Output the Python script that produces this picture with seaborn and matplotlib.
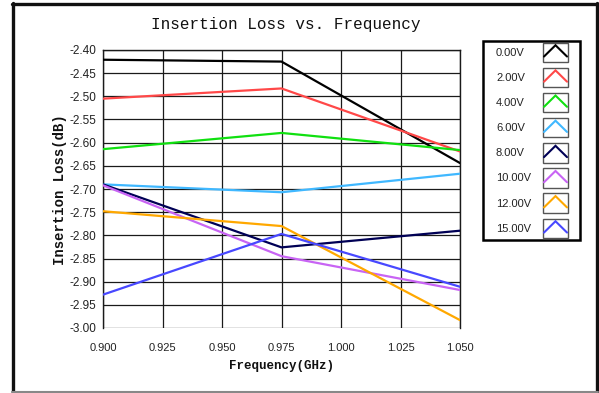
import numpy as np
import pandas as pd
import matplotlib
matplotlib.use("Agg")
import matplotlib.pyplot as plt
import seaborn as sns
from matplotlib.legend_handler import HandlerBase
from matplotlib.patches import Rectangle
from matplotlib.lines import Line2D
from matplotlib.ticker import MultipleLocator, FuncFormatter, FixedLocator

# ---------------- data ----------------
freq = [0.900, 0.975, 1.050]
series_labels = ["0.00V", "2.00V", "4.00V", "6.00V", "8.00V", "10.00V", "12.00V", "15.00V"]
loss_0v = [-2.421, -2.425, -2.644]
loss_2v = [-2.505, -2.483, -2.619]
loss_4v = [-2.614, -2.579, -2.616]
loss_6v = [-2.690, -2.707, -2.667]
loss_8v = [-2.690, -2.826, -2.790]
loss_10v = [-2.692, -2.845, -2.918]
loss_12v = [-2.748, -2.780, -2.983]
loss_15v = [-2.928, -2.797, -2.911]
series_colors = ["#000000", "#ff4848", "#10e010", "#40b8ff",
                 "#000055", "#c864f4", "#ffa800", "#4848ff"]
x_ticks = [0.900, 0.925, 0.950, 0.975, 1.000, 1.025, 1.050]
y_ticks = [-2.40, -2.45, -2.50, -2.55, -2.60, -2.65, -2.70, -2.75,
           -2.80, -2.85, -2.90, -2.95, -3.00]

all_series = [loss_0v, loss_2v, loss_4v, loss_6v, loss_8v, loss_10v, loss_12v, loss_15v]
rows = []
for lab, vals in zip(series_labels, all_series):
    for f, v in zip(freq, vals):
        rows.append({"Frequency": f, "Loss": v, "Bias": lab})
df = pd.DataFrame(rows)

# ---------------- style ----------------
sns.set_style("white")
plt.rcParams["font.family"] = ["Liberation Sans", "DejaVu Sans"]
NARROW = ["Liberation Sans", "DejaVu Sans"]
MONO = ["Liberation Mono", "DejaVu Sans Mono"]

W, H = 599, 393
fig = plt.figure(figsize=(W / 100, H / 100), dpi=100)
fig.patch.set_facecolor("white")

left, right, top, bottom = 103, 460, 50, 328
ax = fig.add_axes([left / W, 1 - bottom / H, (right - left) / W, (bottom - top) / H])

sns.lineplot(data=df, x="Frequency", y="Loss", hue="Bias", hue_order=series_labels,
             palette=dict(zip(series_labels, series_colors)), linewidth=1.6,
             legend=False, ax=ax, zorder=3)

ax.set_xlim(x_ticks[0], x_ticks[-1])
ax.set_ylim(y_ticks[-1], y_ticks[0])
ax.xaxis.set_major_locator(FixedLocator(x_ticks))
ax.yaxis.set_major_locator(FixedLocator(y_ticks))
ax.xaxis.set_minor_locator(MultipleLocator(0.0025))
ax.yaxis.set_minor_locator(MultipleLocator(0.025))
ax.xaxis.set_major_formatter(FuncFormatter(lambda v, p: "%.3f" % v))
ax.yaxis.set_major_formatter(FuncFormatter(lambda v, p: ("%.2f" % v).replace("\u2212", "-")))

ax.grid(True, which="major", color="#1a1a1a", linewidth=0.9)
ax.set_axisbelow(True)

for s in ["top", "right", "left"]:
    ax.spines[s].set_color("#1a1a1a")
    ax.spines[s].set_linewidth(1.0)
ax.spines["bottom"].set_position(("outward", 3))
ax.spines["bottom"].set_visible(False)

ax.tick_params(axis="x", which="major", direction="out", length=4.5, width=0.9,
               color="#222222", pad=3, labelsize=8, labelcolor="#222222")
ax.tick_params(axis="x", which="minor", direction="out", length=2.6, width=0.8,
               color="#222222")
ax.tick_params(axis="y", which="major", direction="out", length=3, width=0.9,
               color="#222222", pad=2, labelsize=8.5, labelcolor="#222222")
ax.tick_params(axis="y", which="minor", direction="out", length=1.6, width=0.8,
               color="#222222")
for lab in ax.get_xticklabels() + ax.get_yticklabels():
    lab.set_family(NARROW)

ax.set_xlabel("")
ax.set_ylabel("")

# titles / labels
fig.text(286 / W, 1 - 25 / H, "Insertion Loss vs. Frequency", family=MONO,
         fontsize=11.5, ha="center", va="center", color="#111111")
fig.text(281 / W, 1 - 366 / H, "Frequency(GHz)", family=MONO, fontweight="bold",
         fontsize=9, ha="center", va="center", color="#111111")
fig.text(60 / W, 1 - 190 / H, "Insertion Loss(dB)", family=MONO, fontweight="bold",
         fontsize=10, ha="center", va="center", rotation=90, color="#111111")


# ---------------- legend ----------------
# icon box sits to the right of the (left-aligned) label text
ICON_OFFSET_PT = 47 * 0.72   # distance from text start to icon box
ICON_W_PT = 25 * 0.72


class CaretHandler(HandlerBase):
    def create_artists(self, legend, orig_handle, xdescent, ydescent, width, height,
                       fontsize, trans):
        x0, y0 = -xdescent + ICON_OFFSET_PT, -ydescent
        w = ICON_W_PT
        rect = Rectangle((x0, y0), w, height, fill=False, edgecolor="#555555",
                         linewidth=1.0, transform=trans)
        line = Line2D([x0 + 0.04 * w, x0 + 0.5 * w, x0 + 0.96 * w],
                      [y0 + 0.28 * height, y0 + 0.86 * height, y0 + 0.28 * height],
                      color=orig_handle.get_color(), linewidth=1.5,
                      solid_joinstyle="miter", transform=trans)
        return [rect, line]


handles = ax.get_lines()[:len(series_labels)]
leg = fig.legend(handles, series_labels, loc="upper left",
                 bbox_to_anchor=(496 / W, 1 - 42.5 / H), bbox_transform=fig.transFigure,
                 frameon=False, markerfirst=True, borderpad=0, borderaxespad=0,
                 handlelength=0.0, handleheight=2.32, labelspacing=0.51,
                 handletextpad=0.0,
                 prop={"family": NARROW, "size": 8},
                 handler_map={Line2D: CaretHandler()})
for t in leg.get_texts():
    t.set_color("#222222")

fig.add_artist(Rectangle((483 / W, 1 - 240 / H), (580 - 483) / W, (240 - 41.5) / H,
                         transform=fig.transFigure, fill=False, edgecolor="black",
                         linewidth=1.8))

# outer border
fig.add_artist(Line2D([13 / W, 13 / W], [1 - 392 / H, 1 - 3 / H], transform=fig.transFigure,
                      color="#111111", linewidth=2.4))
fig.add_artist(Line2D([12 / W, 598 / W], [1 - 3.5 / H, 1 - 3.5 / H], transform=fig.transFigure,
                      color="#111111", linewidth=2.4))
fig.add_artist(Line2D([597 / W, 597 / W], [1 - 392 / H, 1 - 3 / H], transform=fig.transFigure,
                      color="#111111", linewidth=2.4))
fig.add_artist(Line2D([12 / W, 598 / W], [1 - 392 / H, 1 - 392 / H], transform=fig.transFigure,
                      color="#888888", linewidth=1.5))

fig.savefig("out.png", dpi=100, facecolor="white")
